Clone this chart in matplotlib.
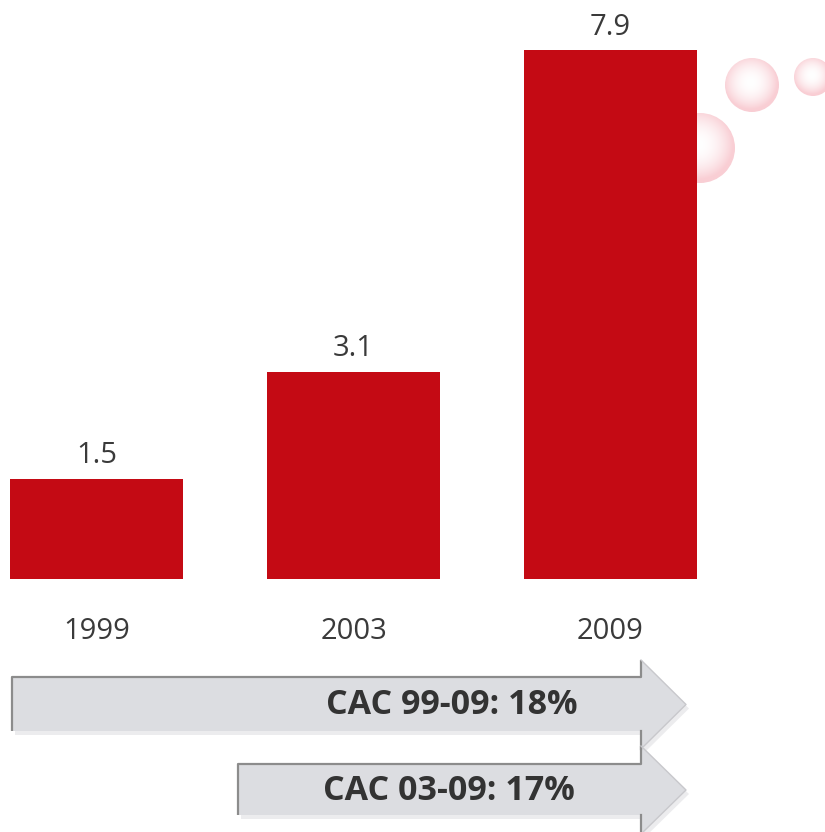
import numpy as np
import matplotlib
matplotlib.use("Agg")
import matplotlib.pyplot as plt
from matplotlib.patches import Polygon, Circle

categories = ['1999', '2003', '2009']
values = [1.5, 3.1, 7.9]
arrow_labels = ['CAC 99-09: 18%', 'CAC 03-09: 17%']

W, H = 825, 832
fig = plt.figure(figsize=(W / 100, H / 100), dpi=100)

# background overlay in pixel coordinates
bg = fig.add_axes([0, 0, 1, 1], zorder=0)
bg.axis('off')

# decorative bubbles with radial gradient
def bubble(ax, cx, cy, r):
    n = 200
    xs = np.linspace(-1, 1, n)
    X, Y = np.meshgrid(xs, xs)
    d = np.sqrt((X + 0.05) ** 2 + (Y + 0.1) ** 2)
    d = np.clip(d, 0, 1)
    c0 = np.array([1.0, 1.0, 1.0])
    c1 = np.array([249, 206, 212]) / 255.0
    t = d ** 2.0
    img = c0[None, None, :] * (1 - t[..., None]) + c1[None, None, :] * t[..., None]
    im = ax.imshow(img, extent=(cx - r, cx + r, cy + r, cy - r), zorder=1,
                   interpolation='bilinear')
    clip = Circle((cx, cy), r, transform=ax.transData, facecolor='none', edgecolor='none')
    ax.add_patch(clip)
    im.set_clip_path(clip)

bubble(bg, 700, 148, 35)
bubble(bg, 752, 85, 27)
bubble(bg, 813, 77, 19)

# arrows
def arrow(ax, x0, y_top, y_bot, xb, h_top, h_bot, tip, label, tx):
    ymid = (y_top + y_bot) / 2
    hmid = (h_top + h_bot) / 2
    pts = [(x0, y_top), (xb, y_top), (xb, h_top), (tip, hmid),
           (xb, h_bot), (xb, y_bot), (x0, y_bot)]
    shadow = [(x + 3, y + 4) for x, y in pts]
    ax.add_patch(Polygon(shadow, closed=True, facecolor='#ececee', edgecolor='none', zorder=2))
    ax.add_patch(Polygon(pts, closed=True, facecolor='#dcdde1', edgecolor='none', zorder=3))
    ax.plot([x0, x0, xb, xb], [y_bot, y_top, y_top, h_top], color='#8c8c8c', lw=1.6,
            zorder=4, solid_capstyle='butt')
    ax.plot([xb, xb], [y_bot, h_bot], color='#8c8c8c', lw=1.6, zorder=4)
    ax.plot([xb, tip, xb], [h_top, hmid, h_bot], color='#c8c8cc', lw=1.0, zorder=4)
    ax.text(tx, ymid + 1, label, ha='center', va='center', fontsize=24.5, fontweight='bold',
            color='#333333', family=['Open Sans'], zorder=5)

arrow(bg, 12, 677, 731, 641, 660, 749, 686, arrow_labels[0], 452)
arrow(bg, 238, 764, 815, 641, 746, 834, 686, arrow_labels[1], 449)
bg.set_xlim(0, W)
bg.set_ylim(H, 0)
bg.set_aspect('auto')

# bar chart axes
ax = fig.add_axes([0, 0, 1, 1], zorder=1)
ax.patch.set_alpha(0)
x = np.arange(len(categories))
k = 66.9
ax.bar(x, values, width=0.673, color='#c40a14', zorder=2)
ax.set_xlim(-96.5 / 257, (W - 96.5) / 257)
ax.set_ylim(-253 / k, (H - 253) / k)
ax.axis('off')
for xi, v in zip(x, values):
    ax.annotate(f'{v:.1f}', (xi, v), xytext=(0, 11), textcoords='offset points',
                ha='center', va='baseline', fontsize=21, color='#3a3a3a', family='Open Sans')
for xi, c in zip(x, categories):
    ax.annotate(c, (xi, 0), xytext=(0, -43), textcoords='offset points',
                ha='center', va='baseline', fontsize=21, color='#3a3a3a', family='Open Sans')

fig.savefig('out.png', dpi=100)
